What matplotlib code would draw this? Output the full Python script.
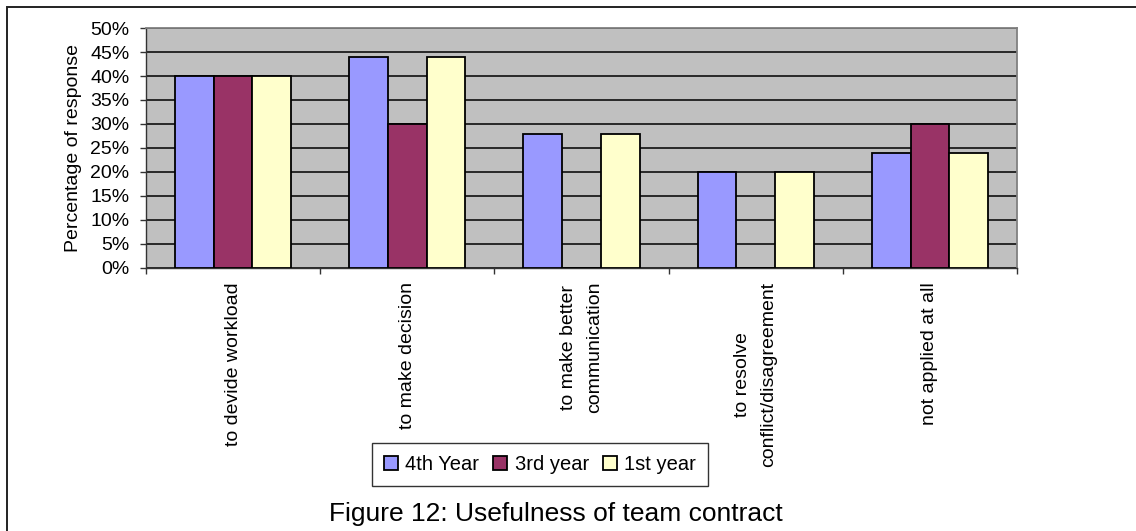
import matplotlib
matplotlib.use("Agg")
import matplotlib.pyplot as plt
import numpy as np
from matplotlib.patches import Rectangle
from matplotlib.ticker import FixedLocator, FuncFormatter

plt.rcParams['font.family'] = ['Liberation Sans', 'DejaVu Sans']

categories = ["to devide workload", "to make decision", "to make better\ncommunication",
              "to resolve\nconflict/disagreement", "not applied at all"]
series_names = ["4th Year", "3rd year", "1st year"]
fourth_year = [40, 44, 28, 20, 24]
third_year = [40, 30, 0, 0, 30]
first_year = [40, 44, 28, 20, 24]
series_colors = ["#9999FF", "#993366", "#FFFFCC"]
y_ticks = [0, 5, 10, 15, 20, 25, 30, 35, 40, 45, 50]

W, H = 1136, 531
fig = plt.figure(figsize=(W / 100, H / 100), dpi=100)
fig.patch.set_facecolor("white")

ax = fig.add_axes([146 / W, 1 - 268 / H, (1017 - 146) / W, (268 - 28) / H])
ax.set_facecolor("#C0C0C0")

x = np.arange(len(categories))
bw = 1 / 4.5
for i, (vals, name, col) in enumerate(zip([fourth_year, third_year, first_year],
                                          series_names, series_colors)):
    ax.bar(x + (i - 1) * bw, vals, width=bw, color=col, edgecolor="black",
           linewidth=1.3, label=name, zorder=3)

ax.set_xlim(-0.5, len(categories) - 0.5)
ax.set_ylim(0, 50)

ax.yaxis.set_major_locator(FixedLocator(y_ticks))
ax.yaxis.set_major_formatter(FuncFormatter(lambda v, p: f"{int(v)}%"))
ax.set_axisbelow(True)
ax.yaxis.grid(True, color="black", linewidth=1.1)

ax.xaxis.set_major_locator(FixedLocator(np.arange(-0.5, len(categories), 1.0)))
ax.xaxis.set_minor_locator(FixedLocator(x))
ax.set_xticklabels([], minor=False)
ax.set_xticklabels(categories, minor=True, rotation=90, va="top", ha="center",
                   multialignment="center", linespacing=1.65)
ax.tick_params(axis="x", which="major", length=4, width=1, color="#333333", direction="out")
ax.tick_params(axis="x", which="minor", length=0, pad=10, labelsize=14)
ax.tick_params(axis="y", length=4, width=1, color="#333333", direction="out", pad=8,
               labelsize=14)

for s in ("top", "right"):
    ax.spines[s].set_color("#808080")
    ax.spines[s].set_linewidth(1.3)
for s in ("left", "bottom"):
    ax.spines[s].set_color("#333333")
    ax.spines[s].set_linewidth(1.0)

ax.set_ylabel("Percentage of response", fontsize=14, labelpad=6)

leg = ax.legend(loc="center", bbox_to_anchor=(540 / W, 1 - 464.5 / H),
                bbox_transform=fig.transFigure, ncol=3, fontsize=14.5, frameon=True,
                fancybox=False, edgecolor="black", handlelength=0.7, handleheight=0.7,
                handletextpad=0.35, columnspacing=0.7, borderpad=0.6, borderaxespad=0)
leg.get_frame().set_linewidth(1.0)

fig.text(556 / W, 1 - 514 / H, "Figure 12: Usefulness of team contract",
         ha="center", va="center", fontsize=19)

# outer frame of the figure (left and top edges)
fig.add_artist(Rectangle((7 / W, -0.2), 1.5, 1.2 - 7 / H, transform=fig.transFigure,
                         fill=False, edgecolor="#222222", linewidth=1.4))

fig.savefig("out.png", dpi=100, facecolor="white")
